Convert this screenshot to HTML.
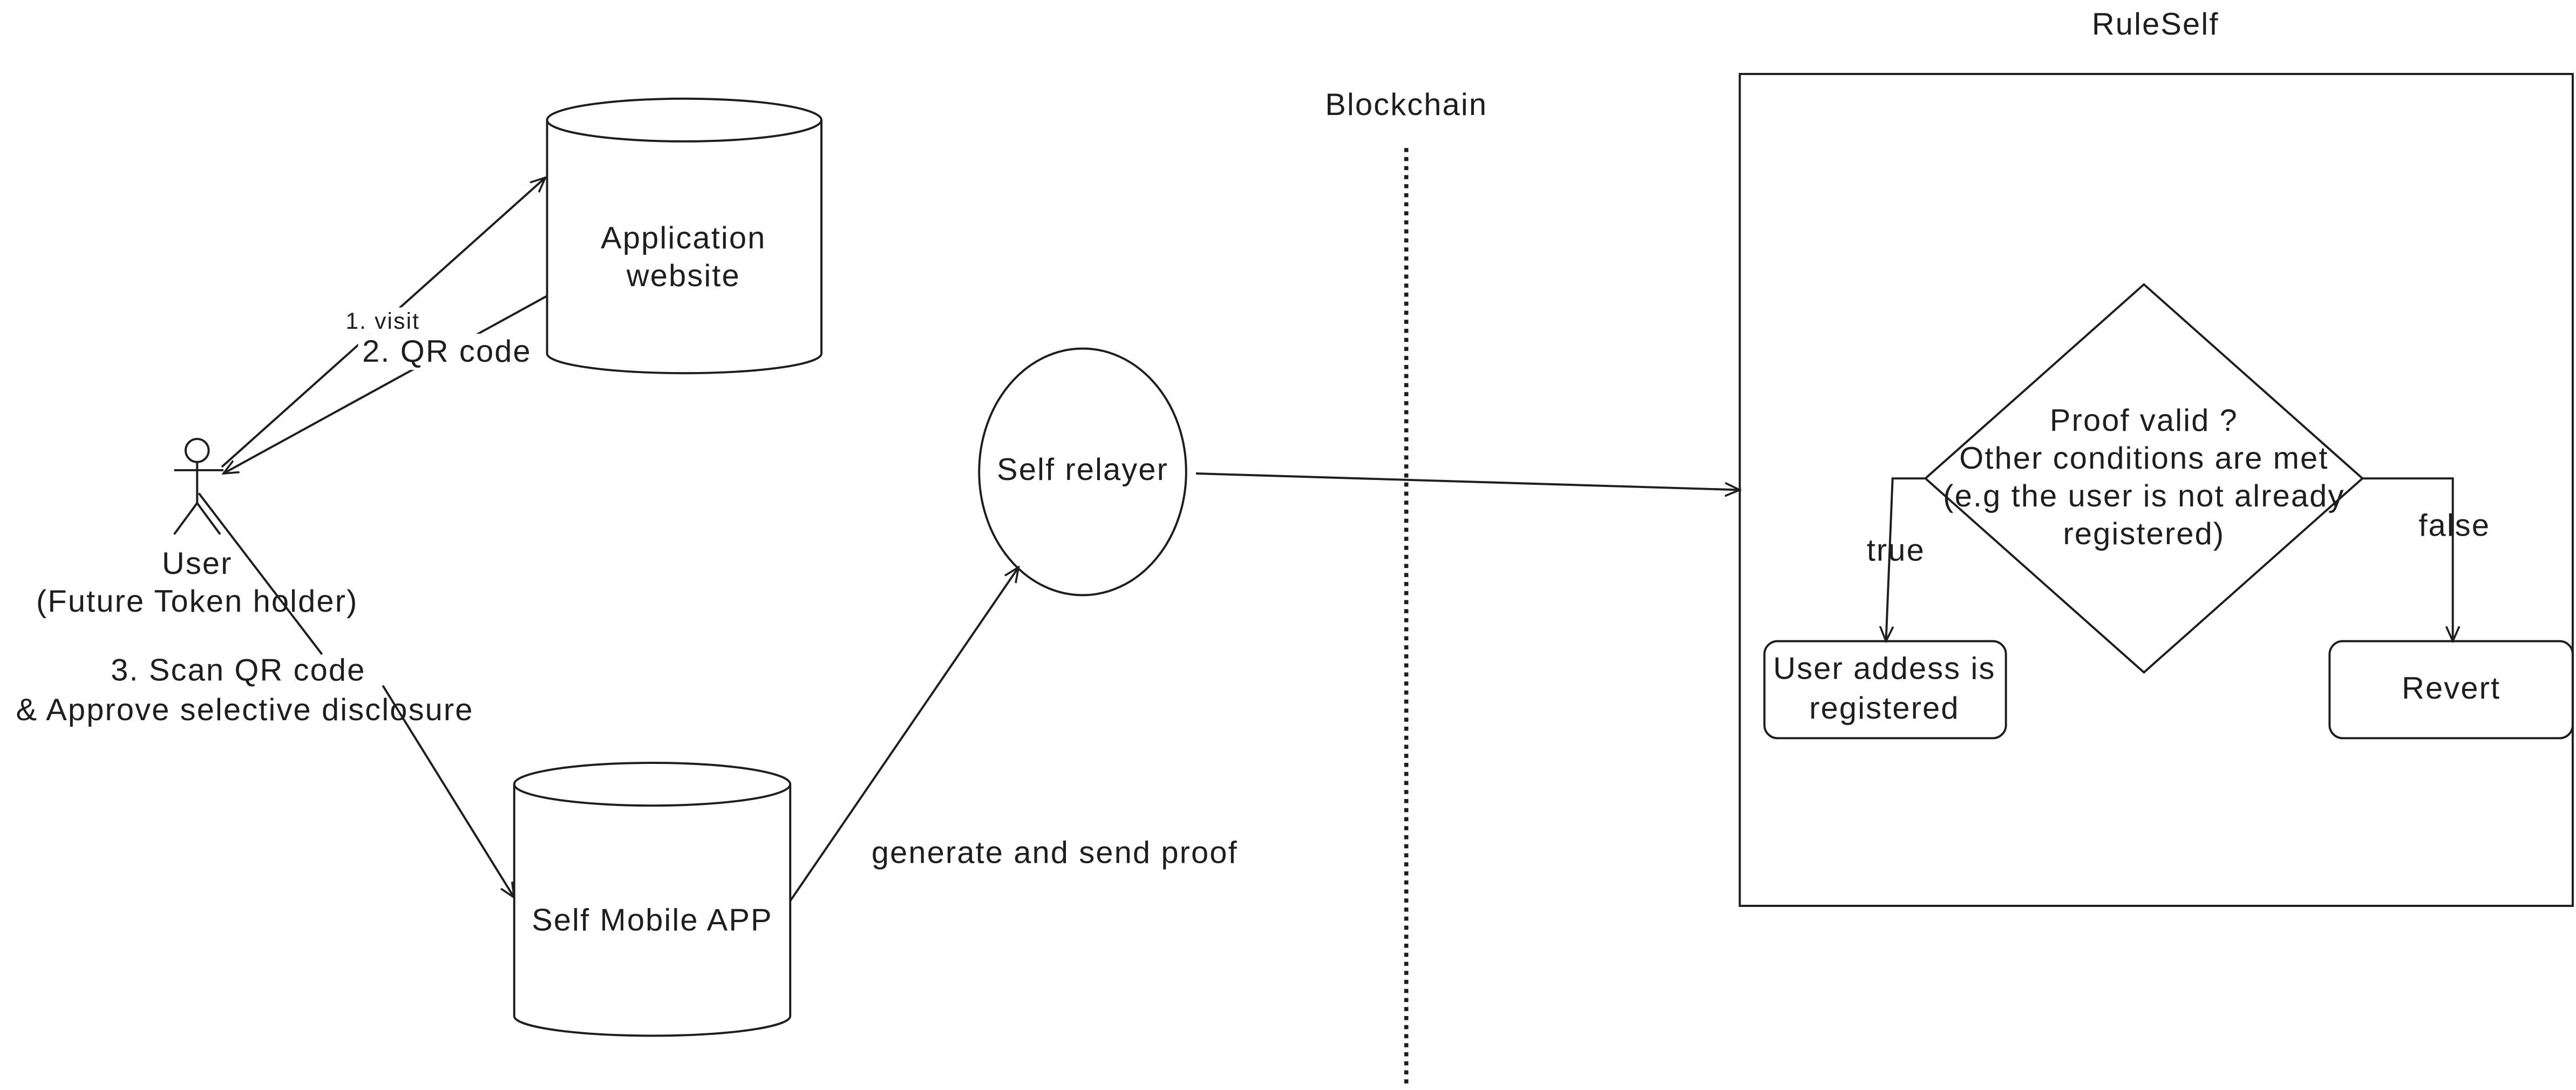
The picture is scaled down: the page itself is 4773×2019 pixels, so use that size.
<!DOCTYPE html>
<html><head><meta charset="utf-8"><style>
html,body{margin:0;padding:0;background:#fff;}
svg{display:block;}
text{font-family:"Liberation Sans",sans-serif;fill:#1e1e1e;letter-spacing:0.7px;}
</style></head><body>
<svg width="4773" height="2019" viewBox="0 0 1568 663" preserveAspectRatio="none" xmlns="http://www.w3.org/2000/svg">
<defs>
<marker id="a" markerWidth="10" markerHeight="10" refX="9" refY="5" orient="auto" markerUnits="userSpaceOnUse"><path d="M0,1 L9,5 L0,9" fill="none" stroke="#1e1e1e" stroke-width="1.2"/></marker>
</defs>
<g fill="none" stroke="#1e1e1e" stroke-width="1.3">
<path d="M333,73 L333,215 M500,73 L500,215"/>
<ellipse cx="416.5" cy="73" rx="83.5" ry="13"/>
<path d="M333,215 A83.5,12 0 0 0 500,215"/>
<path d="M313,477 L313,618 M481,477 L481,618"/>
<ellipse cx="397" cy="477" rx="84" ry="13"/>
<path d="M313,618 A84,12 0 0 0 481,618"/>
<ellipse cx="659" cy="287" rx="63" ry="75"/>
<line x1="856" y1="90" x2="856" y2="660" stroke-width="2.5" stroke-dasharray="2.5,3"/>
<rect x="1059" y="45" width="507" height="506"/>
<path d="M1305,173 L1438,291 L1305,409 L1172,291 Z"/>
<rect x="1074" y="390" width="147" height="59" rx="8"/>
<rect x="1418" y="390" width="148" height="59" rx="8"/>
<circle cx="120" cy="274" r="7"/>
<path d="M120,281 L120,306 M106,286 L136,286 M120,306 L106,325 M120,306 L134,325"/>
<path d="M135,284 L332,108" marker-end="url(#a)"/>
<path d="M333,180 L136,288" marker-end="url(#a)"/>
<path d="M121,300 L196,398"/>
<path d="M233,417 L313,546" marker-end="url(#a)"/>
<path d="M481,548 L620,345" marker-end="url(#a)"/>
<path d="M728,288 L1059,298" marker-end="url(#a)"/>
<path d="M1172,291 L1152,291 L1148,390" marker-end="url(#a)"/>
<path d="M1438,291 L1493,291 L1493,390" marker-end="url(#a)"/>
</g>
<rect x="214" y="187" width="38" height="16" fill="#fff"/>
<rect x="218" y="203" width="108" height="22" fill="#fff"/>
<g font-size="19" text-anchor="middle">
<text x="1312" y="21">RuleSelf</text>
<text x="856" y="70">Blockchain</text>
<text x="416" y="151">Application</text>
<text x="416" y="174">website</text>
<text x="659" y="292">Self relayer</text>
<text x="397" y="566">Self Mobile APP</text>
<text x="642" y="525">generate and send proof</text>
<text x="120" y="349">User</text>
<text x="120" y="372">(Future Token holder)</text>
<text x="145" y="414">3. Scan QR code</text>
<text x="149" y="438">&amp; Approve selective disclosure</text>
<text x="272" y="220">2. QR code</text>
<text x="233" y="200" font-size="14">1. visit</text>
<text x="1305" y="262">Proof valid ?</text>
<text x="1305" y="285">Other conditions are met</text>
<text x="1305" y="308">(e.g the user is not already</text>
<text x="1305" y="331">registered)</text>
<text x="1154" y="341">true</text>
<text x="1494" y="326">false</text>
<text x="1147" y="413">User addess is</text>
<text x="1147" y="437">registered</text>
<text x="1492" y="425">Revert</text>
</g>
</svg>
</body></html>
